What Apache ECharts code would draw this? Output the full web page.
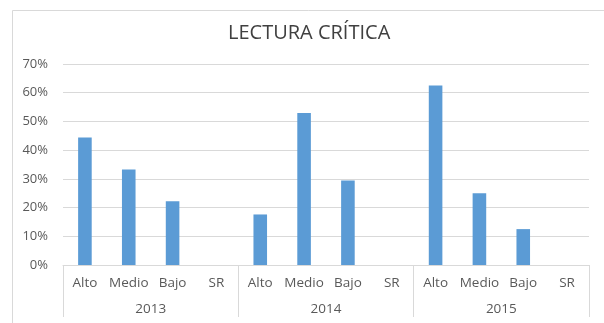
<!DOCTYPE html>
<html>
<head>
<meta charset="utf-8">
<script src="https://cdn.jsdelivr.net/npm/echarts@6/dist/echarts.min.js"></script>
<style>
  html, body { margin: 0; padding: 0; background: #fff; }
  #chart { width: 604px; height: 323px; }
</style>
</head>
<body>
<div id="chart"></div>
<script>
// Results of the "Lectura crítica" test by performance level and year
const years = ['2013', '2014', '2015'];
const levels = ['Alto', 'Medio', 'Bajo', 'SR'];
const values2013 = [44.4, 33.3, 22.2, 0];
const values2014 = [17.6, 52.9, 29.4, 0];
const values2015 = [62.5, 25.0, 12.5, 0];
const yTicks = [0, 10, 20, 30, 40, 50, 60, 70];

const perYear = [values2013, values2014, values2015];
const levelCats = [];
const flatValues = [];
years.forEach((y, i) => {
  levels.forEach((l, j) => {
    levelCats.push(l);
    flatValues.push(perYear[i][j]);
  });
});

const FONT = 'Open Sans';
const TEXT = '#595959';
const LINE = '#d9d9d9';

const chart = echarts.init(document.getElementById('chart'), null, { renderer: 'canvas' });
chart.setOption({
  animation: false,
  backgroundColor: '#fff',
  title: {
    text: 'LECTURA CRÍTICA',
    left: 228,
    top: 23,
    padding: 0,
    textStyle: { fontFamily: FONT, fontSize: 20, fontWeight: 'normal', color: '#404040' }
  },
  graphic: [{
    type: 'rect',
    shape: { x: 12.5, y: 10.5, width: 620, height: 340 },
    style: { fill: 'none', stroke: LINE, lineWidth: 1 },
    silent: true
  }],
  grid: { left: 63, right: 15, top: 64, bottom: 58, containLabel: false },
  xAxis: [
    {
      type: 'category',
      data: levelCats,
      position: 'bottom',
      axisLine: { show: true, lineStyle: { color: LINE, width: 1 } },
      axisTick: { show: false },
      axisLabel: {
        interval: 0, margin: 11, color: TEXT, fontFamily: FONT, fontSize: 13.5
      }
    },
    {
      type: 'category',
      data: years,
      position: 'bottom',
      axisLine: { show: false },
      axisTick: { show: true, length: 52, lineStyle: { color: LINE, width: 1 } },
      axisLabel: {
        interval: 0, margin: 37, color: TEXT, fontFamily: FONT, fontSize: 13.5
      }
    }
  ],
  yAxis: {
    type: 'value',
    min: yTicks[0],
    max: yTicks[yTicks.length - 1],
    interval: 10,
    axisLine: { show: false },
    axisTick: { show: false },
    splitLine: { lineStyle: { color: LINE, width: 1 } },
    axisLabel: {
      margin: 15, color: TEXT, fontFamily: FONT, fontSize: 13,
      formatter: v => v + '%'
    }
  },
  series: [{
    type: 'bar',
    xAxisIndex: 0,
    data: flatValues,
    barWidth: '31%',
    itemStyle: { color: '#5B9BD5' }
  }]
});
</script>
</body>
</html>
